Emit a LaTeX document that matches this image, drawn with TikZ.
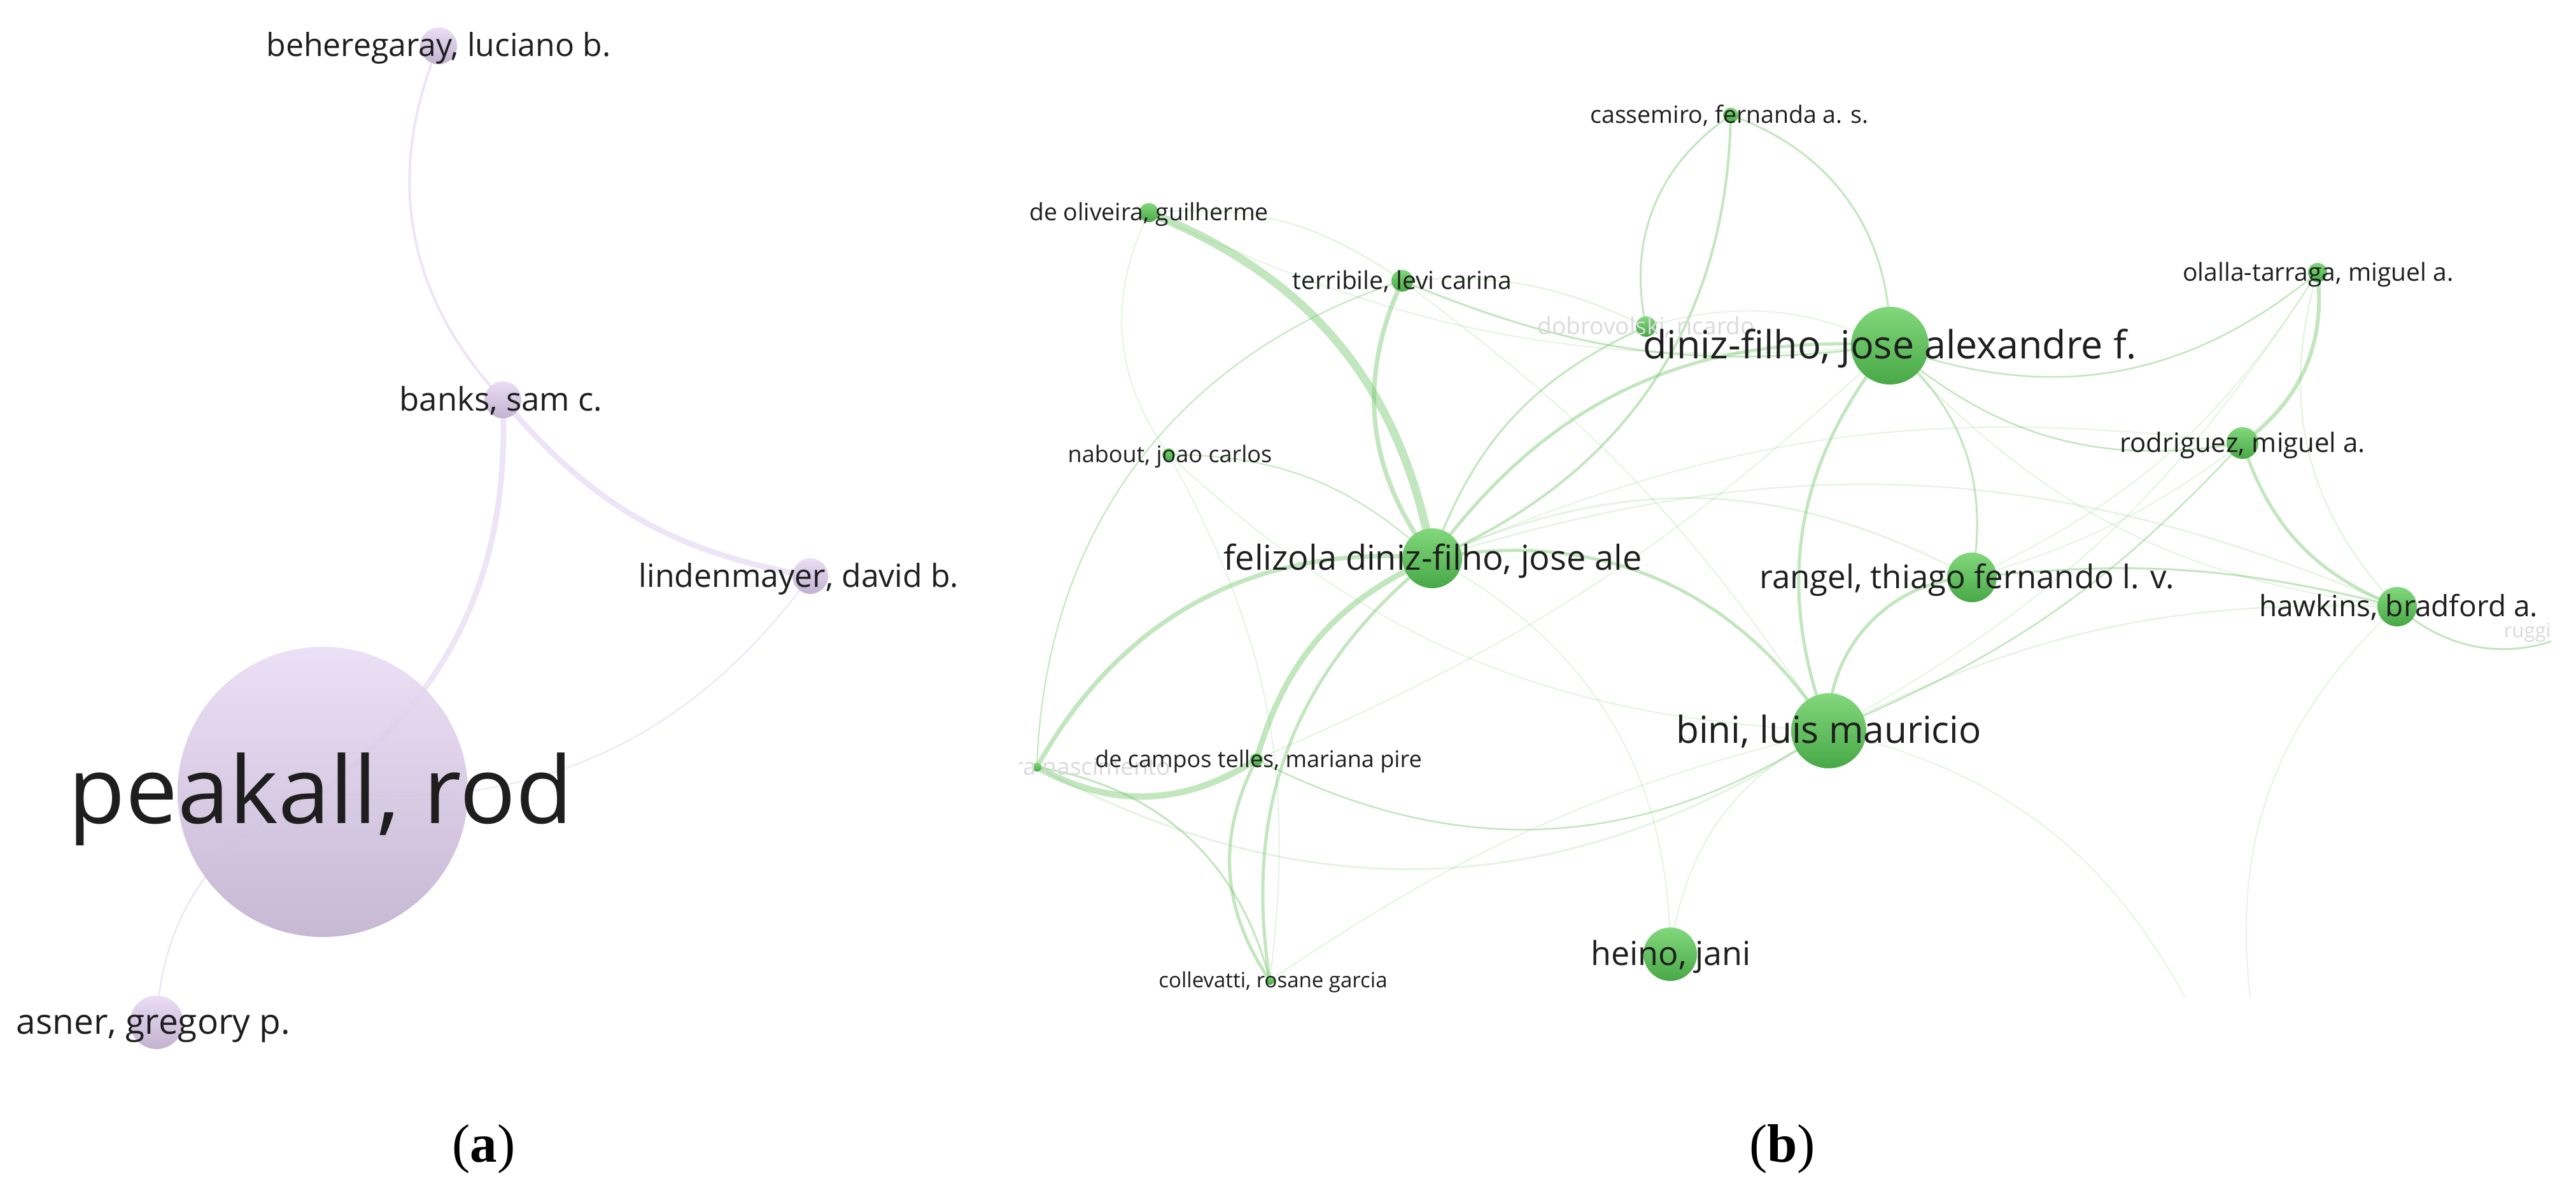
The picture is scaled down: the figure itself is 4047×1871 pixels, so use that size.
\documentclass[tikz,border=0pt]{standalone}
\usepackage{fontspec}
\setmainfont{Open Sans}
\newfontfamily\capfont{Liberation Serif}
\pgfdeclarelayer{edges}
\pgfsetlayers{edges,main}
\definecolor{eg}{RGB}{120,200,110}
\definecolor{gtop}{RGB}{130,216,124}
\definecolor{gbot}{RGB}{72,168,70}
\definecolor{ltop}{RGB}{234,221,245}
\definecolor{lbot}{RGB}{194,178,208}
\definecolor{lav}{RGB}{237,229,247}
\definecolor{txt}{RGB}{30,30,30}
\definecolor{fade}{RGB}{218,218,218}
\tikzset{
 gn/.style={circle, inner sep=0pt, minimum size=0.25*#1, top color=gtop, bottom color=gbot, draw=none},
 ln/.style={circle, inner sep=0pt, minimum size=0.25*#1, top color=ltop, bottom color=lbot, draw=none},
 ew/.style={draw=eg, line width=0.25*#1, draw opacity=0.45},
 ef/.style={draw=eg, line width=0.25*#1, draw opacity=0.2},
 la/.style={draw=lav, line width=0.25*#1},
 lbl/.style={text=txt, inner sep=0pt, anchor=base},
}
\newcommand\lab[5]{\pgfmathsetmacro\fsz{0.25*#4}%
\node[lbl, font=\fontsize{\fsz}{\fsz}\selectfont] (#1) at (#2,{-(#3)-0.34*#4}) {#5};}
\newcommand\flab[6]{\pgfmathsetmacro\fsz{0.25*#4}%
\node[lbl, text=fade, font=\fontsize{\fsz}{\fsz}\selectfont, anchor=#6] (#1) at (#2,{-(#3)-0.34*#4}) {#5};}
\begin{document}
\begin{tikzpicture}[x=0.25pt,y=0.25pt]
\useasboundingbox (0,0) rectangle (4047,-1871);
% ---------- panel (a) nodes
\node[ln=58pt] (BE) at (689,-72) {};
\node[ln=58pt] (BA) at (790,-628) {};
\node[ln=56pt] (LI) at (1273,-905) {};
\node[ln=456pt, opacity=0.92] (PE) at (507,-1244) {};
\node[ln=84pt] (AS) at (246,-1606) {};
% ---------- panel (b) nodes
\node[gn=30pt] (DO) at (1805,-334) {};
\node[gn=34pt] (TE) at (2203,-441) {};
\node[gn=24pt] (CA) at (2719,-181) {};
\node[gn=32pt] (DB) at (2586,-513) {};
\node[gn=122pt] (DF) at (2969,-543) {};
\node[gn=30pt] (OL) at (3641,-428) {};
\node[gn=50pt] (RO) at (3523,-696) {};
\node[gn=20pt] (NA) at (1836,-714) {};
\node[gn=94pt] (FE) at (2250,-877) {};
\node[gn=78pt] (RA) at (3098,-907) {};
\node[gn=62pt] (HA) at (3766,-953) {};
\node[gn=118pt] (BI) at (2873,-1148) {};
\node[gn=14pt] (NS) at (1629,-1205) {};
\node[gn=20pt] (DC) at (1974,-1193) {};
\node[gn=14pt] (CO) at (1995,-1540) {};
\node[gn=84pt] (HE) at (2624,-1499) {};
\coordinate (RUc) at (4060,-985);
\coordinate (B1) at (3540,-1600);
\coordinate (B2) at (3450,-1600);
% ---------- edges
\begin{pgfonlayer}{edges}
\draw[la=4pt] (BE.center) to[bend right=33] (BA.center);
\draw[la=9pt] (BA.center) to[bend left=27] (PE.center);
\draw[la=9pt] (BA.center) to[bend right=20] (LI.center);
\draw[la=2pt] (LI.center) to[bend left=30] (PE.center);
\draw[la=2.5pt] (PE.center) to[bend right=33] (AS.center);
\begin{scope}
\clip (1600,0) rectangle (4008,-1566);
\draw[ew=13pt] (DO.center) to[bend left=29] (FE.center);
\draw[ew=7pt] (TE.center) to[bend right=31] (FE.center);
\draw[ew=7pt] (FE.center) to[bend right=33] (NS.center);
\draw[ew=10pt] (NS.center) to[bend right=31] (DC.center);
\draw[ew=9pt] (FE.center) to[bend right=25] (DC.center);
\draw[ew=5pt] (FE.center) to[bend right=30] (CO.center);
\draw[ew=5pt] (DC.center) to[bend right=31] (CO.center);
\draw[ew=3pt] (NS.center) to[bend left=33] (CO.center);
\draw[ew=2pt] (NS.center) to[bend left=35] (TE.center);
\draw[ef=2pt] (DO.center) to[bend right=31] (NA.center);
\draw[ef=2pt] (NA.center) to[bend left=18] (CO.center);
\draw[ew=2pt] (NA.center) to[bend left=21] (FE.center);
\draw[ef=2.5pt] (DO.center) to[bend left=20] (TE.center);
\draw[ef=2.5pt] (TE.center) to[bend left=15] (DB.center);
\draw[ew=3pt] (TE.center) to[bend right=15] (DF.center);
\draw[ew=3pt] (CA.center) to[bend right=34] (DB.center);
\draw[ew=4pt] (CA.center) to[bend left=33] (FE.center);
\draw[ew=3pt] (CA.center) to[bend left=36] (DF.center);
\draw[ew=3pt] (DB.center) to[bend right=23] (FE.center);
\draw[ew=5pt] (DF.center) to[bend right=29] (FE.center);
\draw[ew=5pt] (DF.center) to[bend right=30] (BI.center);
\draw[ew=3pt] (DF.center) to[bend left=30] (RA.center);
\draw[ew=5pt] (FE.center) to[bend left=34] (BI.center);
\draw[ew=5pt] (RA.center) to[bend right=45] (BI.center);
\draw[ew=6pt] (OL.center) to[bend left=30] (RO.center);
\draw[ef=2.5pt] (OL.center) to[bend right=30] (HA.center);
\draw[ew=2.5pt] (OL.center) to[bend left=30] (DF.center);
\draw[ew=5pt] (RO.center) to[bend right=25] (HA.center);
\draw[ew=2.5pt] (RO.center) to[bend left=25] (DF.center);
\draw[ew=2.5pt] (BI.center) to[bend right=12] (RO.center);
\draw[ew=3pt] (RA.center) to[bend left=10] (HA.center);
\draw[ew=3pt] (HA.center) to[bend right=35] (RUc);
\draw[ef=2pt] (HA.center) to[bend right=28] (B1);
\draw[ef=2pt] (BI.center) to[bend left=25] (B2);
\draw[ef=2pt] (HE.center) to[bend left=28] (BI.center);
\draw[ef=2pt] (HE.center) to[bend right=31] (FE.center);
\draw[ew=2.5pt] (DC.center) to[bend right=30] (BI.center);
\draw[ef=3pt] (NS.center) to[bend right=31] (BI.center);
\draw[ef=3pt] (FE.center) to[bend left=26] (RA.center);
\draw[ef=2pt] (NA.center) to[bend right=20] (BI.center);
\draw[ef=2.5pt] (FE.center) to[bend left=20] (HA.center);
\draw[ef=2pt] (RA.center) to[bend right=10] (RO.center);
\draw[ef=2pt] (BI.center) to[bend right=14] (OL.center);
\draw[ef=2pt] (RA.center) to[bend right=16] (OL.center);
\draw[ef=2.5pt] (BI.center) to[bend left=14] (HA.center);
\draw[ef=2pt] (DO.center) to[bend right=15] (DF.center);
\draw[ef=2pt] (TE.center) to[bend left=10] (BI.center);
\draw[ef=2pt] (DB.center) to[bend left=20] (DF.center);
\draw[ef=2pt] (DF.center) to[bend right=20] (HA.center);
\draw[ef=2pt] (CO.center) to[bend left=10] (BI.center);
\draw[ef=2pt] (DC.center) to[bend right=10] (DF.center);
\draw[ef=2pt] (FE.center) to[bend left=15] (RO.center);
\end{scope}
\end{pgfonlayer}
% ---------- labels panel (a)
\lab{tBE}{689}{72}{50}{beheregaray, luciano b.}
\lab{tBA}{787}{628}{51}{banks, sam c.}
\lab{tLI}{1255}{905}{50}{lindenmayer, david b.}
\lab{tPE}{504}{1244}{146}{peakall, rod}
\lab{tAS}{241}{1606}{55}{asner, gregory p.}
% ---------- labels panel (b)
\flab{tDB}{2586}{513}{37}{dobrovolski, ricardo}{base}
\begin{scope}
\clip (1600,0) rectangle (4008,-1566);
\flab{tNS}{1840}{1205}{37}{ra nascimento}{base east}
\end{scope}
\flab{tRU}{3933}{991}{31}{ruggi}{base west}
\lab{tDO}{1805}{334}{37.4}{de oliveira, guilherme}
\lab{tTE}{2203}{441}{39}{terribile, levi carina}
\lab{tCA}{2717}{181}{37.5}{cassemiro, fernanda a. s.}
\lab{tDF}{2969}{543}{61}{diniz-filho, jose alexandre f.}
\lab{tOL}{3642}{428}{39}{olalla-tarraga, miguel a.}
\lab{tRO}{3523}{696}{42}{rodriguez, miguel a.}
\lab{tNA}{1838}{714}{36}{nabout, joao carlos}
\lab{tFE}{2251}{877}{54}{felizola diniz-filho, jose ale}
\lab{tRA}{3090}{907}{51}{rangel, thiago fernando l. v.}
\lab{tHA}{3768}{953}{46}{hawkins, bradford a.}
\lab{tBI}{2873}{1148}{58.6}{bini, luis mauricio}
\lab{tDC}{1977}{1193}{36}{de campos telles, mariana pire}
\lab{tCO}{2000}{1540}{33}{collevatti, rosane garcia}
\lab{tHE}{2625}{1499}{52}{heino, jani}
% ---------- captions
\node[inner sep=0pt] (capa) at (760,-1805) {\capfont\fontsize{21.25}{21.25}\selectfont (\textbf{a})};
\node[inner sep=0pt] (capb) at (2800,-1805) {\capfont\fontsize{21.25}{21.25}\selectfont (\textbf{b})};
\end{tikzpicture}
\end{document}
